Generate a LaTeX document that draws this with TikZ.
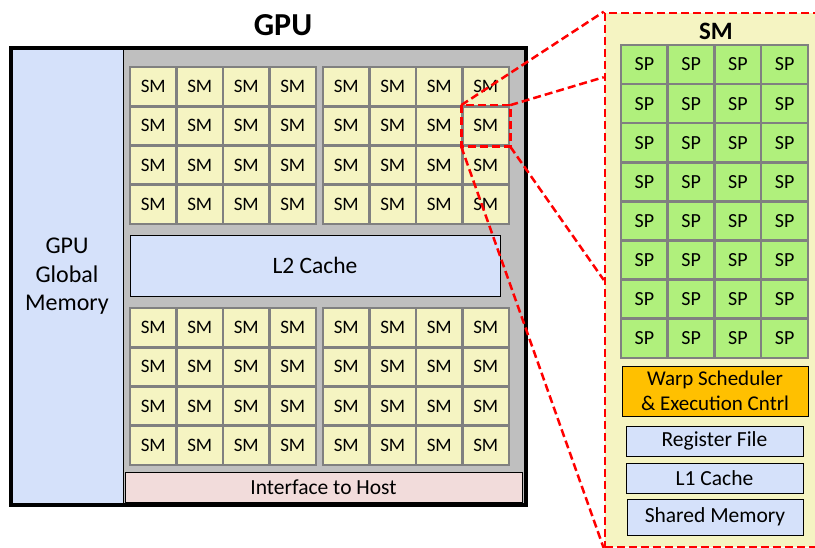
\documentclass[tikz,border=0pt]{standalone}
\usepackage{fontspec}
\setmainfont{Carlito}
\usetikzlibrary{calc}

\definecolor{smyellow}{HTML}{F5F4C2}
\definecolor{cellgray}{HTML}{808080}
\definecolor{chipgray}{HTML}{BFBFBF}
\definecolor{memblue}{HTML}{D5E1FA}
\definecolor{spgreen}{HTML}{B0F07C}
\definecolor{warporange}{HTML}{FFC000}
\definecolor{hostpink}{HTML}{F2DCDB}

\begin{document}
\begin{tikzpicture}[
    x=1pt, y=-1pt,
    smcell/.style={rectangle, draw=cellgray, line width=2.5pt, fill=smyellow, minimum width=46.5pt, minimum height=39pt, inner sep=0pt, font=\fontsize{19}{21}\selectfont},
    spcell/.style={smcell, fill=spgreen, minimum width=46.75pt, minimum height=39.1pt, font=\fontsize{20}{22}\selectfont},
    memblock/.style={rectangle, draw=black, line width=0.9pt, fill=memblue, inner sep=0pt, align=center, font=\fontsize{21.5}{23}\selectfont},
    title/.style={font=\fontsize{32}{34}\selectfont\bfseries},
    zoomline/.style={draw=red, line width=2.5pt, dash pattern=on 8pt off 4pt}
]
    \useasboundingbox (0,0) rectangle (815,548);

    % the GPU chip
    \node (chip) [rectangle, fill=chipgray, minimum width=515pt, minimum height=457pt, inner sep=0pt] at (268.5,276.5) {};
    \node (global) [memblock, line width=0.8pt, minimum width=112pt, minimum height=457pt, font=\fontsize{24}{28.5}\selectfont] at (67,276.5) {GPU\\Global\\Memory};
    \draw [line width=3.5pt] (chip.north west) rectangle (chip.south east);
    \node (gputitle) [title] at (283,25) {GPU};

    % four groups of 4x4 SMs
    \foreach \gx/\gy/\g in {130/67/tl, 323/67/tr, 130/308/bl, 323/308/br} {
        \foreach \r in {1,...,4} {
            \foreach \c in {1,...,4} {
                \node (sm-\g-\r-\c) [smcell] at ({\gx+46.5*\c-23.25},{\gy+39.25*\r-19.6}) {SM};
            }
        }
    }

    \node (l2) [memblock, minimum width=370pt, minimum height=61pt, font=\fontsize{23.5}{25}\selectfont] at (315,265.5) {L2 Cache};
    \node (host) [memblock, fill=hostpink, minimum width=397pt, minimum height=30pt, font=\fontsize{21.5}{23}\selectfont] at (323.5,487) {Interface to Host};

    % one SM, zoomed in
    \node (smpanel) [rectangle, fill=smyellow, zoomline, minimum width=219pt, minimum height=534pt, inner sep=0pt] at (714.5,280) {};
    \node (smtitle) [title, font=\fontsize{25}{27}\selectfont\bfseries] at (716,31) {SM};
    \foreach \r in {1,...,8} {
        \foreach \c in {1,...,4} {
            \node (sp-\r-\c) [spcell] at ({621+46.75*\c-23.4},{45+39.1*\r-19.55}) {SP};
        }
    }
    \node (warp) [memblock, fill=warporange, minimum width=186pt, minimum height=50pt, font=\fontsize{21}{25}\selectfont] at (715,391) {Warp Scheduler\\\& Execution Cntrl};
    \node (regfile) [memblock, minimum width=177pt, minimum height=30pt] at (714.5,441) {Register File};
    \node (l1) [memblock, minimum width=177pt, minimum height=30pt] at (714.5,478) {L1 Cache};
    \node (shared) [memblock, minimum width=176pt, minimum height=36pt] at (715,517) {Shared Memory};

    % zoom connectors
    \coordinate (panel-in) at ($(smpanel.north west)!0.122!(smpanel.south west)$);
    \draw [zoomline] (sm-tr-2-4.north west) rectangle (sm-tr-2-4.south east);
    \draw [zoomline] (sm-tr-2-4.north west) -- (smpanel.north west);
    \draw [zoomline] (sm-tr-2-4.north east) -- (panel-in);
    \draw [zoomline] (sm-tr-2-4.south east) -- (smpanel.west);
    \draw [zoomline] (sm-tr-2-4.south west) -- (smpanel.south west);
\end{tikzpicture}
\end{document}
